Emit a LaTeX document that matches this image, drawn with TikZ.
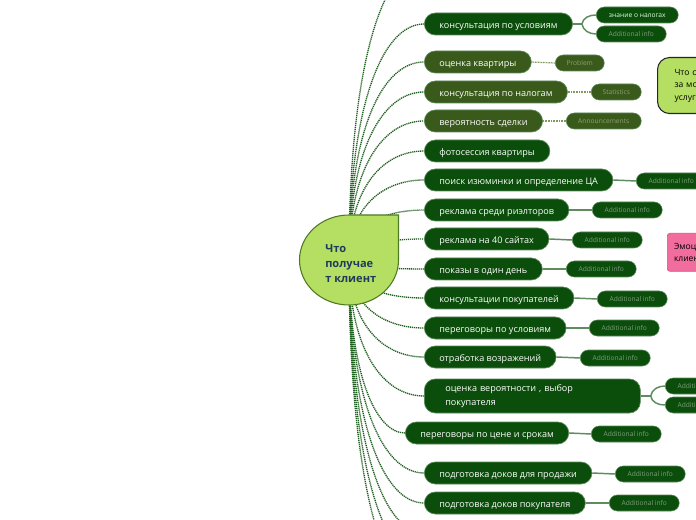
\documentclass[tikz,border=0pt]{standalone}
\usepackage{fontspec}
\setmainfont{Open Sans}
\definecolor{dg}{HTML}{0B4D0B}
\definecolor{olv}{HTML}{3A5A1B}
\definecolor{lg}{HTML}{B4DF62}
\definecolor{lgb}{HTML}{4F7A24}
\definecolor{connc}{HTML}{1E5E1E}
\definecolor{sublc}{HTML}{5E8C5E}
\definecolor{subdc}{HTML}{7E9A5E}
\definecolor{subtext}{HTML}{7E9E7E}
\definecolor{olvtext}{HTML}{8CA070}
\definecolor{bord}{HTML}{5A8A5A}
\definecolor{navy}{HTML}{1F3A5C}
\definecolor{pinkf}{HTML}{F26C9E}
\definecolor{pinkb}{HTML}{C9588A}
\tikzset{
  mainn/.style={anchor=west, rectangle, rounded corners=8.25pt, minimum height=16.5pt,
    inner xsep=11.25pt, inner ysep=0pt, text=white, font=\fontsize{6.8}{8}\selectfont,
    text height=6.6pt, text depth=0.4pt,
    draw=bord, line width=0.5pt, fill=dg},
  subn/.style={anchor=west, rectangle, rounded corners=6pt, minimum height=12pt,
    minimum width=52.5pt, inner sep=0pt, font=\fontsize{5}{6}\selectfont,
    text height=4.6pt, text depth=0.2pt,
    text=subtext, fill=dg, draw=bord, line width=0.4pt},
  conn/.style={draw=connc, line width=1pt, dash pattern=on 0.9pt off 0.6pt},
  subl/.style={draw=sublc, line width=1.1pt},
  subd/.style={draw=subdc, line width=0.9pt, dash pattern=on 0.7pt off 0.5pt},
}
\begin{document}
\begin{tikzpicture}[x=0.75pt,y=-0.75pt]
\clip (0,0) rectangle (696,520);
\fill[white] (0,0) rectangle (696,520);
\coordinate (c) at (349,260);

% main nodes
\node[mainn] (n1) at (424,24) {консультация по условиям};
\node[mainn, fill=olv] (n2) at (424,62) {оценка квартиры};
\node[mainn, fill=olv] (n3) at (424,92) {консультация по налогам};
\node[mainn, fill=olv] (n4) at (424,121) {вероятность сделки};
\node[mainn] (n5) at (424,151) {фотосессия квартиры};
\node[mainn] (n6) at (424,180) {поиск изюминки и определение ЦА};
\node[mainn] (n7) at (424,210) {реклама среди риэлторов};
\node[mainn] (n8) at (424,239) {реклама на 40 сайтах};
\node[mainn] (n9) at (424,269) {показы в один день};
\node[mainn] (n10) at (424,298) {консультации покупателей};
\node[mainn] (n11) at (424,328) {переговоры по условиям};
\node[mainn] (n12) at (424,357) {отработка возражений};
\node[mainn, minimum height=25.5pt, text width=130.5pt, inner xsep=15.75pt, align=left,
  text height=, text depth=, font=\fontsize{6.8}{10}\selectfont] (n13) at (424,396)
  {оценка вероятности , выбор\\покупателя};
\node[mainn] (n14) at (405,433) {переговоры по цене и срокам};
\node[mainn] (n15) at (424,473) {подготовка доков для продажи};
\node[mainn] (n16) at (424,503) {подготовка доков покупателя};
\coordinate (o0) at (424,-36);
\coordinate (o1) at (424,533);
\coordinate (o2) at (424,563);
\coordinate (o3) at (424,593);

% sub nodes
\node[subn, minimum width=61.5pt, text=white!90!green] (s1a) at (596,15) {знание о налогах};
\node[subn] (s1b) at (596,34) {Additional info};
\node[subn, fill=olv, text=olvtext, minimum width=36.75pt] (s2) at (555,63) {Problem};
\node[subn, fill=olv, text=olvtext, minimum width=37.5pt] (s3) at (591,92) {Statistics};
\node[subn, fill=olv, text=olvtext, minimum width=56.25pt] (s4) at (566,121) {Announcements};
\node[subn] (s6) at (636,181) {Additional info};
\node[subn] (s7) at (592,210) {Additional info};
\node[subn] (s8) at (572,240) {Additional info};
\node[subn] (s9) at (566,269) {Additional info};
\node[subn] (s10) at (597,299) {Additional info};
\node[subn] (s11) at (589,328) {Additional info};
\node[subn] (s12) at (580,358) {Additional info};
\node[subn] (s13a) at (665,386) {Additional info};
\node[subn] (s13b) at (665,405) {Additional info};
\node[subn] (s14) at (591,434) {Additional info};
\node[subn] (s15) at (615,474) {Additional info};
\node[subn] (s16) at (609,503) {Additional info};

% sub connectors
\draw[subl] (n1.east) -- ++(9,0) coordinate (j1);
\draw[subl] (j1) to[out=80,in=180] (s1a.west);
\draw[subl] (j1) to[out=-80,in=180] (s1b.west);
\draw[subd] (n2.east) -- (s2.west);
\draw[subd] (n3.east) -- (s3.west);
\draw[subd] (n4.east) -- (s4.west);
\draw[subl] (n6.east) -- (s6.west);
\draw[subl] (n7.east) -- (s7.west);
\draw[subl] (n8.east) -- (s8.west);
\draw[subl] (n9.east) -- (s9.west);
\draw[subl] (n10.east) -- (s10.west);
\draw[subl] (n11.east) -- (s11.west);
\draw[subl] (n12.east) -- (s12.west);
\draw[subl] (n13.east) -- ++(10,0) coordinate (j13);
\draw[subl] (j13) to[out=80,in=180] (s13a.west);
\draw[subl] (j13) to[out=-80,in=180] (s13b.west);
\draw[subl] (n14.east) -- (s14.west);
\draw[subl] (n15.east) -- (s15.west);
\draw[subl] (n16.east) -- (s16.west);

% connectors from centre
\draw[conn] (c) .. controls +(0,-192) and +(-42,0) .. (o0);
\draw[conn] (c) .. controls +(0,-153) and +(-42,0) .. (n1.west);
\draw[conn] (c) .. controls +(0,-129) and +(-42,0) .. (n2.west);
\draw[conn] (c) .. controls +(0,-109) and +(-42,0) .. (n3.west);
\draw[conn] (c) .. controls +(0,-90) and +(-42,0) .. (n4.west);
\draw[conn] (c) .. controls +(0,-71) and +(-42,0) .. (n5.west);
\draw[conn] (c) .. controls +(0,-52) and +(-42,0) .. (n6.west);
\draw[conn] (c) .. controls +(0,-33) and +(-42,0) .. (n7.west);
\draw[conn] (c) .. controls +(0,-14) and +(-42,0) .. (n8.west);
\draw[conn] (c) .. controls +(0,6) and +(-42,0) .. (n9.west);
\draw[conn] (c) .. controls +(0,25) and +(-42,0) .. (n10.west);
\draw[conn] (c) .. controls +(0,44) and +(-42,0) .. (n11.west);
\draw[conn] (c) .. controls +(0,63) and +(-42,0) .. (n12.west);
\draw[conn] (c) .. controls +(0,88) and +(-42,0) .. (n13.west);
\draw[conn] (c) .. controls +(0,112) and +(-30,0) .. (n14.west);
\draw[conn] (c) .. controls +(0,138) and +(-42,0) .. (n15.west);
\draw[conn] (c) .. controls +(0,158) and +(-42,0) .. (n16.west);
\draw[conn] (c) .. controls +(0,177) and +(-42,0) .. (o1);
\draw[conn] (c) .. controls +(0,197) and +(-42,0) .. (o2);
\draw[conn] (c) .. controls +(0,216) and +(-42,0) .. (o3);

% centre
\draw[fill=lg, draw=lgb, line width=0.8pt] (349,215) -- (398.5,215) -- (398.5,260)
  arc[start angle=0, end angle=270, x radius=49.5, y radius=45] -- cycle;
\node[anchor=west, align=left, font=\bfseries\fontsize{8.3}{11.25}\selectfont, text=navy, inner sep=0pt]
  (center) at (325,264) {Что\\получае\\т клиент};

% right-hand notes
\node[anchor=north west, rectangle, rounded corners=9pt, fill=lg, draw=black!85, line width=0.8pt,
  minimum width=60pt, minimum height=42pt, text width=40pt, inner xsep=12.75pt, align=left,
  font=\fontsize{6.4}{9.4}\selectfont] (note1) at (657,57) {Что с\\за мо\\услуг};
\node[anchor=north west, rectangle, rounded corners=2pt, fill=pinkf, draw=pinkb, line width=0.5pt,
  minimum width=40pt, minimum height=28.5pt, text width=30pt, inner xsep=4.5pt, align=left,
  font=\fontsize{6.4}{9}\selectfont] (note2) at (667,233) {Эмоц\\клиен};
\end{tikzpicture}
\end{document}
